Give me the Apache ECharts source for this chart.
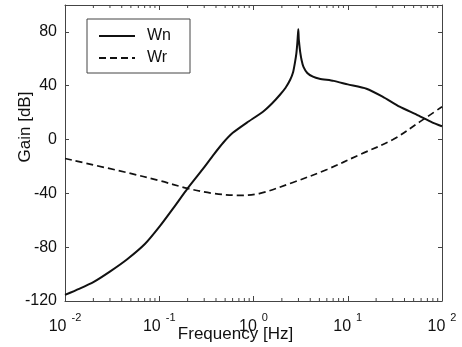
<!DOCTYPE html>
<html>
<head>
<meta charset="utf-8">
<script src="https://cdn.jsdelivr.net/npm/echarts@6/dist/echarts.min.js"></script>
<style>
html,body{margin:0;padding:0;background:#fff;}
#chart{width:462px;height:347px;}
</style>
</head>
<body>
<div id="chart"></div>
<script>
// Wn (solid) — frequency [Hz] and gain [dB]
const wnFreq = [0.01, 0.0141, 0.02, 0.0302, 0.0457, 0.0708, 0.102, 0.141, 0.2, 0.288, 0.38, 0.479, 0.603, 0.851,
  1.26, 1.58, 1.91, 2.19, 2.45, 2.63, 2.75, 2.85, 2.92, 2.96, 2.99, 3.02, 3.07, 3.13, 3.24, 3.39, 3.72, 4.27, 5.01,
  7.08, 10, 15.8, 23.4, 35.5, 53.7, 79.4, 100];
const wnGain = [-115.5, -111, -106, -98, -89, -77.5, -64.2, -51, -36.3, -22.2, -11, -2.2, 5, 12.6,
  20.7, 27, 33.3, 38.5, 44.4, 50, 57, 64, 72, 78, 82, 75, 70, 65, 59, 54, 49.5, 46.7, 45.2,
  43.6, 41, 37.8, 31.9, 24.4, 18.5, 12.6, 9.9];
// Wr (dashed)
const wrFreq = [0.01, 0.0457, 0.1, 0.2, 0.372, 0.72, 1.17, 2.62, 6.03, 13.5, 30.2, 58.5, 100];
const wrGain = [-14.1, -24.6, -30.5, -36.3, -40.0, -41.5, -40, -31.9, -22.2, -11.1, 0, 13.3, 24.4];

const seriesNames = ['Wn', 'Wr'];
const xTickExponents = ['-2', '-1', '0', '1', '2'];
const minorTickFreq = [0.02,0.03,0.04,0.05,0.06,0.07,0.08,0.09, 0.2,0.3,0.4,0.5,0.6,0.7,0.8,0.9,
  2,3,4,5,6,7,8,9, 20,30,40,50,60,70,80,90];
const yMin = -120, yMax = 100, yStep = 40;
const xMin = 0.01, xMax = 100;

const FONT = 'Liberation Sans, Arial, Helvetica, sans-serif';
const AX = '#444';

const chart = echarts.init(document.getElementById('chart'), null, {renderer: 'canvas'});

const xBase = {
  type: 'log', logBase: 10, min: xMin, max: xMax,
  splitLine: {show: false},
  axisLine: {show: true, onZero: false, lineStyle: {color: AX, width: 1}},
  axisTick: {show: true, inside: true, length: 5, lineStyle: {color: AX}},
};
const yBase = {
  type: 'value', min: yMin, max: yMax, interval: yStep,
  splitLine: {show: false},
  axisLine: {show: true, onZero: false, lineStyle: {color: AX, width: 1}},
  axisTick: {show: true, inside: true, length: 4, lineStyle: {color: AX}},
};

chart.setOption({
  animation: false,
  backgroundColor: '#fff',
  textStyle: {fontFamily: FONT},
  grid: {left: 65, right: 20, top: 5, bottom: 46, containLabel: false, outerBoundsMode: 'none'},
  legend: {
    data: seriesNames,
    orient: 'vertical',
    left: 87, top: 19,
    itemWidth: 36, itemHeight: 14, itemGap: 6,
    borderColor: AX, borderWidth: 1,
    padding: [9, 19, 7, 11],
    itemStyle: {opacity: 0},
    textStyle: {fontSize: 16, color: '#111', fontFamily: FONT, lineHeight: 14, padding: [0, 0, 0, 7]},
  },
  xAxis: [
    Object.assign({}, xBase, {
      position: 'bottom',
      name: 'Frequency [Hz]',
      nameLocation: 'middle',
      nameGap: 25,
      nameMoveOverlap: false,
      nameTextStyle: {fontSize: 17, color: '#111', fontFamily: FONT, padding: [0, 36, 0, 0]},
      axisLabel: {
        margin: 11,
        formatter: function (v) {
          const i = Math.round(Math.log10(v)) + 2;
          return '{b|10}{e|' + xTickExponents[i] + '}';
        },
        rich: {
          b: {fontSize: 16, lineHeight: 23, color: '#111', fontFamily: FONT, verticalAlign: 'bottom'},
          e: {fontSize: 11, lineHeight: 11, color: '#111', fontFamily: FONT, verticalAlign: 'top', padding: [0, 0, 0, 5]}
        }
      }
    }),
    Object.assign({}, xBase, {position: 'top', axisLabel: {show: false}})
  ],
  yAxis: [
    Object.assign({}, yBase, {
      position: 'left',
      name: 'Gain [dB]',
      nameLocation: 'middle',
      nameRotate: 90,
      nameGap: 31,
      nameMoveOverlap: false,
      nameTextStyle: {fontSize: 17, color: '#111', fontFamily: FONT, padding: [0, 0, 0, 52]},
      axisLabel: {fontSize: 16, color: '#111', fontFamily: FONT, margin: 8, showMaxLabel: false}
    }),
    Object.assign({}, yBase, {position: 'right', axisLabel: {show: false}})
  ],
  series: [
    {
      name: 'Wn', type: 'line', xAxisIndex: 0, yAxisIndex: 0,
      data: wnFreq.map((f, i) => [f, wnGain[i]]),
      showSymbol: false, symbol: 'none', smooth: 0.2,
      lineStyle: {color: '#111', width: 2, type: 'solid'},
      itemStyle: {color: '#111'},
      z: 3
    },
    {
      name: 'Wr', type: 'line', xAxisIndex: 0, yAxisIndex: 0,
      data: wrFreq.map((f, i) => [f, wrGain[i]]),
      showSymbol: false, symbol: 'none', smooth: 0.35,
      lineStyle: {color: '#111', width: 1.7, type: [7, 4]},
      itemStyle: {color: '#111'},
      z: 3
    },
    {
      name: 'minorTicks', type: 'custom', xAxisIndex: 0, yAxisIndex: 0,
      silent: true, clip: false,
      data: minorTickFreq.map(f => [f, 0]),
      encode: {x: 0, y: 1},
      renderItem: function (params, api) {
        const f = api.value(0);
        const b = api.coord([f, yMin]);
        const t = api.coord([f, yMax]);
        return {
          type: 'group',
          children: [
            {type: 'line', shape: {x1: b[0], y1: b[1], x2: b[0], y2: b[1] - 3}, style: {stroke: AX, lineWidth: 1}},
            {type: 'line', shape: {x1: t[0], y1: t[1], x2: t[0], y2: t[1] + 3}, style: {stroke: AX, lineWidth: 1}}
          ]
        };
      }
    }
  ]
});
</script>
</body>
</html>
